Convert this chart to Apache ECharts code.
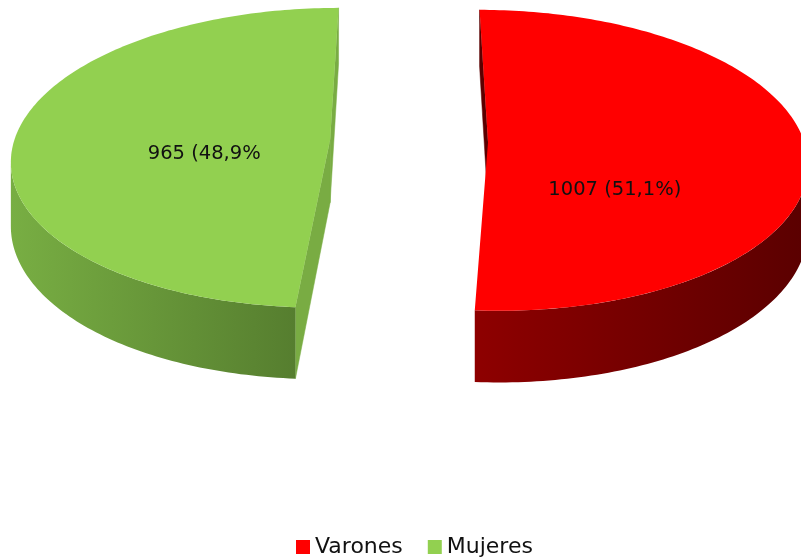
<!DOCTYPE html>
<html><head><meta charset="utf-8">
<script src="https://cdn.jsdelivr.net/npm/echarts@6/dist/echarts.min.js"></script>
<style>html,body{margin:0;padding:0;background:#fff}#c{width:801px;height:559px}</style>
</head><body><div id="c"></div>
<script>
// ---- data ----
const categories = ['Varones', 'Mujeres'];
const values = [1007, 965];
const labelTexts = ['1007 (51,1%)', '965 (48,9%'];

// ---- styles ----
const topColors = ['#FF0000', '#92D050'];
const wallStops = [['#8E0000', '#5A0000'], ['#78AE43', '#567E2F']];
const cutColors = ['#5C0000', '#79AC43'];
const labelShift = [[0, 46], [0, 16]];

const G = {cx: 409, cy: 141, A: 316, B: 148, H: 63, q: 0.12, e: 0.25, start: 0};
const total = values.reduce((s, v) => s + v, 0);
const rad = d => d * Math.PI / 180;

function proj(X, Z, bottom) {
  const s = 1 / (1 + G.q * Z);
  return [G.cx + G.A * X * s, G.cy - G.B * Z * s + (bottom ? G.H * s : 0)];
}
function startAngle(i) {
  let before = 0;
  for (let k = 0; k < i; k++) before += values[k];
  return G.start + before / total * 360;
}
const cross = (u, v) => u[0] * v[1] - u[1] * v[0];

function renderSlice(i) {
  return function (params, api) {
    const v = api.value(0);
    const a0 = startAngle(i);
    const a1 = a0 + v / total * 360;
    const mid = (a0 + a1) / 2;
    const ex = G.e * Math.sin(rad(mid)), ez = G.e * Math.cos(rad(mid));
    const P = (th, r, bottom) => proj(ex + r * Math.sin(rad(th)), ez + r * Math.cos(rad(th)), bottom);
    const children = [];
    const C = P(0, 0, false), Cb = P(0, 0, true);

    let thR = 0, thL = 0, xmax = -1e9, xmin = 1e9;
    for (let t = 0; t < 360; t += 0.25) {
      const p = P(t, 1, false);
      if (p[0] > xmax) { xmax = p[0]; thR = t; }
      if (p[0] < xmin) { xmin = p[0]; thL = t; }
    }

    [a0, a1].forEach((th, k) => {
      const E = P(th, 1, false), Eb = P(th, 1, true);
      const d = [E[0] - C[0], E[1] - C[1]];
      const Mp = P(k === 0 ? th + 5 : th - 5, 1, false);
      const m = [Mp[0] - C[0], Mp[1] - C[1]];
      if (Math.sign(cross(d, m)) !== Math.sign(cross(d, [0, 1]))) {
        children.push({type: 'polygon', shape: {points: [C, E, Eb, Cb]},
          style: {fill: cutColors[i], stroke: cutColors[i], lineWidth: 0.5}});
      }
    });

    [-360, 0, 360].forEach(sh => {
      const lo = Math.max(a0, thR + sh), hi = Math.min(a1, thL + sh);
      if (hi > lo) {
        const topPts = [], botPts = [];
        const n = Math.max(2, Math.ceil(hi - lo));
        for (let j = 0; j <= n; j++) {
          const t = lo + (hi - lo) * j / n;
          topPts.push(P(t, 1, false));
          botPts.push(P(t, 1, true));
        }
        const pts = topPts.concat(botPts.reverse());
        let x0 = 1e9, x1 = -1e9;
        pts.forEach(p => { x0 = Math.min(x0, p[0]); x1 = Math.max(x1, p[0]); });
        children.push({type: 'polygon', shape: {points: pts},
          style: {fill: new echarts.graphic.LinearGradient(x0, 0, x1, 0,
            [{offset: 0, color: wallStops[i][0]}, {offset: 1, color: wallStops[i][1]}], true)}});
      }
    });

    const topPts = [C];
    const n = Math.ceil(a1 - a0);
    for (let j = 0; j <= n; j++) topPts.push(P(a0 + (a1 - a0) * j / n, 1, false));
    children.push({type: 'polygon', shape: {points: topPts}, style: {fill: topColors[i]}});

    const L = P(mid, 0.4, false);
    children.push({type: 'text', style: {text: labelTexts[i], x: L[0] + labelShift[i][0], y: L[1] + labelShift[i][1],
      fill: '#111', font: '19.5px "DejaVu Sans"', align: 'center', verticalAlign: 'middle'}});

    return {type: 'group', children};
  };
}

const chart = echarts.init(document.getElementById('c'), null, {renderer: 'canvas'});
chart.setOption({
  animation: false,
  backgroundColor: '#fff',
  legend: {
    data: categories, left: 291, top: 531, icon: 'rect', itemWidth: 14, itemHeight: 14, itemGap: 25,
    selectedMode: false,
    textStyle: {fontFamily: 'DejaVu Sans', fontSize: 22, color: '#111'}
  },
  series: categories.map((name, i) => ({
    type: 'custom', name, coordinateSystem: 'none', silent: true,
    itemStyle: {color: topColors[i]},
    data: [[values[i]]],
    renderItem: renderSlice(i)
  }))
});
</script></body></html>
